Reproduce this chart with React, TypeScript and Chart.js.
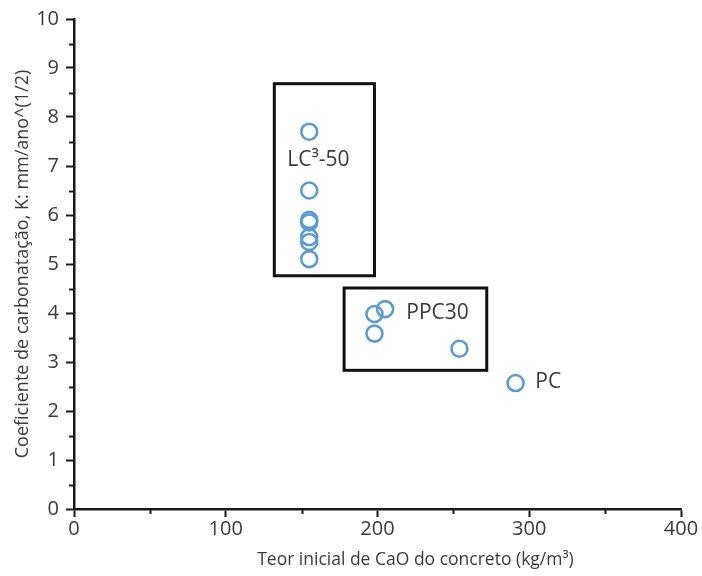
import React, { useEffect, useRef } from "react";
import { Chart, registerables } from "chart.js";

Chart.register(...registerables);

// LC3-50 series
const lc3X = [155, 155, 155, 155, 155, 155, 155];
const lc3Y = [7.7, 6.5, 5.9, 5.85, 5.55, 5.45, 5.1];
// PPC30 series
const ppcX = [198, 205, 198, 254];
const ppcY = [3.98, 4.08, 3.58, 3.27];
// PC series
const pcX = [291];
const pcY = [2.57];

// axis ranges / ticks
const xMin = 0;
const xMax = 400;
const xStep = 100;
const yMin = 0;
const yMax = 10;
const yStep = 1;

const xTitle = "Teor inicial de CaO do concreto (kg/m³)";
const yTitle = "Coeficiente de carbonatação, K: mm/ano^(1/2)";

// group annotation labels (data coordinates)
const groupLabels = ["LC³-50", "PPC30", "PC"];
const groupLabelX = [161, 219, 304];
const groupLabelY = [7.12, 4.0, 2.6];
const groupLabelAlign = ["center", "left", "left"];

// group boxes (data coordinates)
const boxXMin = [132, 178];
const boxXMax = [198, 272];
const boxYMin = [4.76, 2.83];
const boxYMax = [8.68, 4.51];

const FONT = "'Open Sans', 'Noto Sans', sans-serif";
const BLUE = "#5B9BD5";
const AXIS = "#1a1a1a";
const TEXT = "#3a3a3a";

const toPts = (xs: number[], ys: number[]) => xs.map((x, i) => ({ x, y: ys[i] }));

const overlayPlugin = {
  id: "overlay",
  afterDraw(chart: any) {
    const { ctx, scales } = chart;
    const xs = scales.x;
    const ys = scales.y;
    ctx.save();
    // minor ticks
    ctx.strokeStyle = AXIS;
    ctx.lineWidth = 2;
    for (let v = yMin + yStep / 2; v < yMax; v += yStep) {
      const py = Math.round(ys.getPixelForValue(v)) + 0.5;
      ctx.beginPath();
      ctx.moveTo(xs.left - 5, py);
      ctx.lineTo(xs.left, py);
      ctx.stroke();
    }
    for (let v = xMin + xStep / 2; v < xMax; v += xStep) {
      const px = Math.round(xs.getPixelForValue(v)) + 0.5;
      ctx.beginPath();
      ctx.moveTo(px, ys.bottom);
      ctx.lineTo(px, ys.bottom + 5);
      ctx.stroke();
    }
    // boxes
    ctx.strokeStyle = "#111";
    ctx.lineWidth = 3;
    boxXMin.forEach((bx, i) => {
      const x0 = xs.getPixelForValue(bx);
      const x1 = xs.getPixelForValue(boxXMax[i]);
      const y0 = ys.getPixelForValue(boxYMax[i]);
      const y1 = ys.getPixelForValue(boxYMin[i]);
      ctx.strokeRect(x0, y0, x1 - x0, y1 - y0);
    });
    // labels
    ctx.fillStyle = TEXT;
    ctx.font = `21px ${FONT}`;
    ctx.textBaseline = "middle";
    groupLabels.forEach((t, i) => {
      ctx.textAlign = groupLabelAlign[i] as CanvasTextAlign;
      ctx.fillText(t, xs.getPixelForValue(groupLabelX[i]), ys.getPixelForValue(groupLabelY[i]));
    });
    // x axis title
    ctx.font = `17.5px ${FONT}`;
    ctx.textAlign = "center";
    ctx.fillText(xTitle, xs.getPixelForValue(225), ys.bottom + 51);
    ctx.restore();
  },
};

export default function App() {
  const ref = useRef<HTMLCanvasElement | null>(null);
  useEffect(() => {
    if (!ref.current) return;
    const ds = (label: string, xs: number[], ys: number[]) => ({
      label,
      data: toPts(xs, ys),
      pointRadius: 8,
      pointHoverRadius: 8,
      pointBorderWidth: 2.6,
      pointBorderColor: BLUE,
      pointBackgroundColor: "rgba(0,0,0,0)",
      borderColor: BLUE,
      backgroundColor: "rgba(0,0,0,0)",
      showLine: false,
    });
    const chart = new Chart(ref.current, {
      type: "scatter",
      data: {
        datasets: [ds("LC³-50", lc3X, lc3Y), ds("PPC30", ppcX, ppcY), ds("PC", pcX, pcY)],
      },
      options: {
        responsive: false,
        animation: false,
        layout: { padding: { left: 0, top: 16, right: 21, bottom: 0 } },
        plugins: { legend: { display: false }, tooltip: { enabled: false } },
        scales: {
          x: {
            type: "linear",
            min: xMin,
            max: xMax,
            ticks: { stepSize: xStep, color: TEXT, font: { family: FONT, size: 20 }, padding: 0 },
            grid: { drawOnChartArea: false, drawTicks: true, tickLength: 8, tickWidth: 2, tickColor: AXIS },
            border: { display: true, color: AXIS, width: 2.5 },
            afterFit: (s: any) => {
              s.height = 67;
            },
          },
          y: {
            type: "linear",
            min: yMin,
            max: yMax,
            ticks: { stepSize: yStep, color: TEXT, font: { family: FONT, size: 20 }, padding: 7 },
            grid: { drawOnChartArea: false, drawTicks: true, tickLength: 8, tickWidth: 2, tickColor: AXIS },
            border: { display: true, color: AXIS, width: 2.5 },
            title: {
              display: true,
              text: yTitle,
              color: TEXT,
              font: { family: FONT, size: 18 },
              padding: { top: 12, bottom: 0 },
            },
            afterFit: (s: any) => {
              s.width = 74;
            },
          },
        },
      },
      plugins: [overlayPlugin],
    });
    return () => chart.destroy();
  }, []);
  return (
    <div style={{ position: "absolute", left: 0, top: 0, width: 702, height: 576, background: "#fff" }}>
      <canvas ref={ref} width={702} height={576} style={{ display: "block" }} />
    </div>
  );
}
